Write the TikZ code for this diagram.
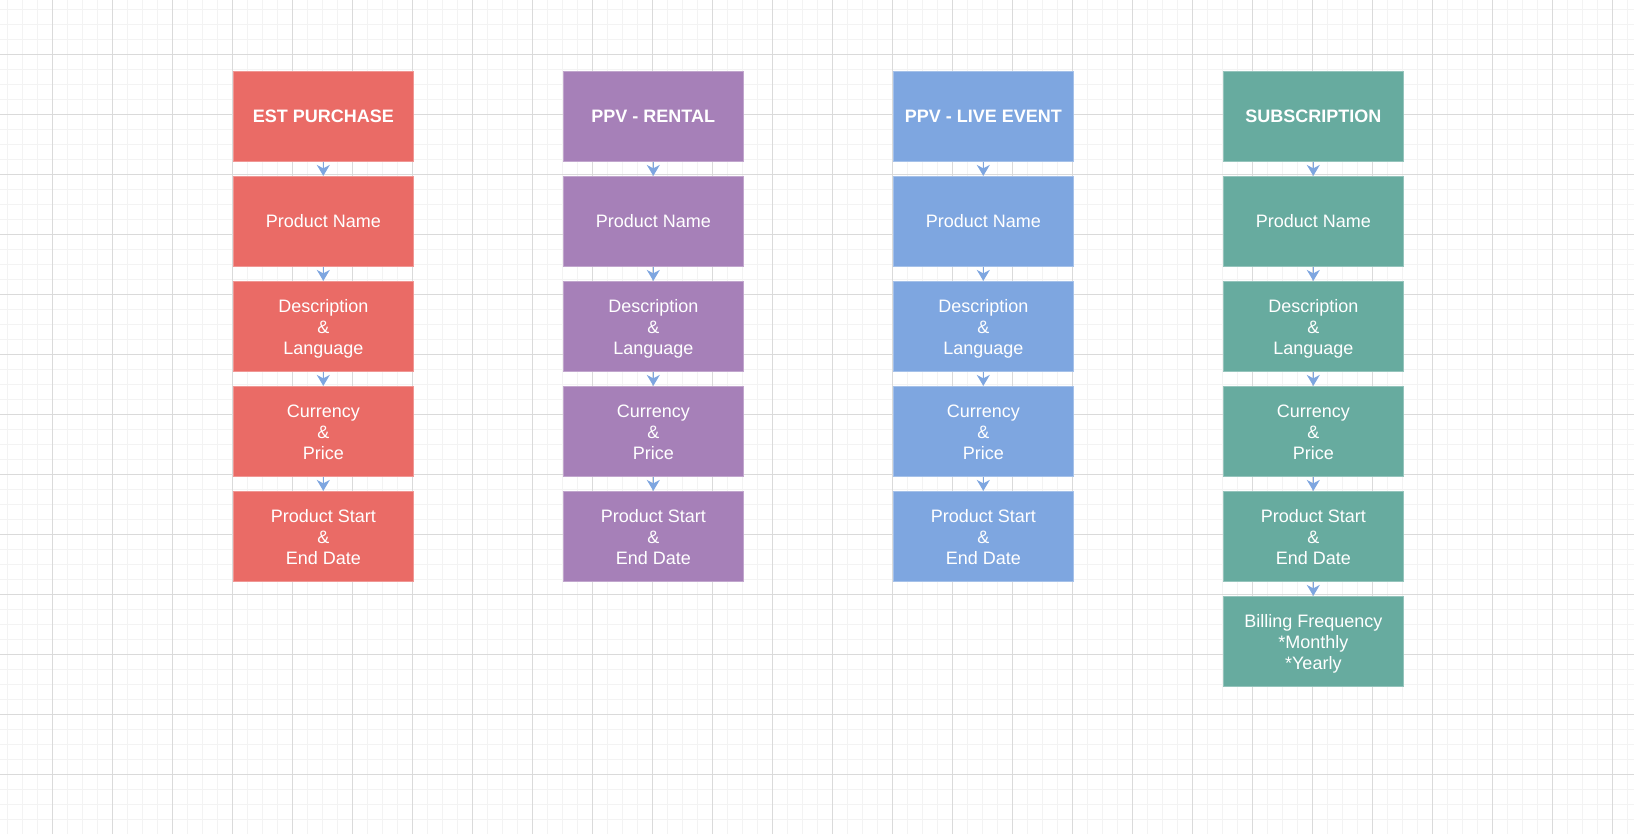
\documentclass[tikz,border=0pt]{standalone}
\usepackage{fontspec}
\setmainfont{Liberation Sans}
\usetikzlibrary{arrows.meta}
\definecolor{cred}{HTML}{EA6B66}
\definecolor{cpur}{HTML}{A680B8}
\definecolor{cblu}{HTML}{7EA6E0}
\definecolor{cgrn}{HTML}{67AB9F}
\definecolor{gminor}{HTML}{F3F3F3}
\definecolor{gmajor}{HTML}{DADADA}
\tikzset{
  minorline/.style={draw=gminor, line width=1.3pt},
  majorline/.style={draw=gmajor, line width=0.9pt},
  cell/.style={minimum width=180pt, minimum height=90pt, inner sep=0pt, align=center,
    text=white, font=\fontsize{18}{20.8}\selectfont, line width=0.8pt},
  multi/.style={cell, text height=56pt, text depth=0pt},
  head/.style={cell, font=\fontsize{18}{20.8}\selectfont\bfseries},
  redc/.style={fill=cred, draw=cred!70!white},
  purc/.style={fill=cpur, draw=cpur!70!white},
  bluc/.style={fill=cblu, draw=cblu!70!white},
  grnc/.style={fill=cgrn, draw=cgrn!70!white},
  link/.style={draw=cblu, line width=1.2pt, -{Stealth[length=11pt,width=13pt,inset=3.5pt]}},
}
\begin{document}
\begin{tikzpicture}[x=1pt,y=1pt]
\useasboundingbox (0,0) rectangle (1634,-834);
\fill[white] (0,0) rectangle (1634,-834);
% minor grid
\foreach \i in {0,...,108} { \draw[minorline] ({7.3+15*\i},0) -- ({7.3+15*\i},-834); }
\foreach \i in {0,...,55} { \draw[minorline] (0,{-9.3-15*\i}) -- (1634,{-9.3-15*\i}); }
% major grid
\foreach \i in {0,...,26} { \draw[majorline] ({52.3+60*\i},0) -- ({52.3+60*\i},-834); }
\foreach \i in {0,...,13} { \draw[majorline] (0,{-54.3-60*\i}) -- (1634,{-54.3-60*\i}); }

% column 1
\node[head,redc] (r0) at (323.3,-116.3) {EST PURCHASE};
\node[cell,redc] (r1) at (323.3,-221.3) {Product Name};
\node[multi,redc] (r2) at (323.3,-326.3) {Description\\\&\\Language};
\node[multi,redc] (r3) at (323.3,-431.3) {Currency\\\&\\Price};
\node[multi,redc] (r4) at (323.3,-536.3) {Product Start\\\&\\End Date};
% column 2
\node[head,purc] (p0) at (653.3,-116.3) {PPV - RENTAL};
\node[cell,purc] (p1) at (653.3,-221.3) {Product Name};
\node[multi,purc] (p2) at (653.3,-326.3) {Description\\\&\\Language};
\node[multi,purc] (p3) at (653.3,-431.3) {Currency\\\&\\Price};
\node[multi,purc] (p4) at (653.3,-536.3) {Product Start\\\&\\End Date};
% column 3
\node[head,bluc] (b0) at (983.3,-116.3) {PPV - LIVE EVENT};
\node[cell,bluc] (b1) at (983.3,-221.3) {Product Name};
\node[multi,bluc] (b2) at (983.3,-326.3) {Description\\\&\\Language};
\node[multi,bluc] (b3) at (983.3,-431.3) {Currency\\\&\\Price};
\node[multi,bluc] (b4) at (983.3,-536.3) {Product Start\\\&\\End Date};
% column 4
\node[head,grnc] (g0) at (1313.3,-116.3) {SUBSCRIPTION};
\node[cell,grnc] (g1) at (1313.3,-221.3) {Product Name};
\node[multi,grnc] (g2) at (1313.3,-326.3) {Description\\\&\\Language};
\node[multi,grnc] (g3) at (1313.3,-431.3) {Currency\\\&\\Price};
\node[multi,grnc] (g4) at (1313.3,-536.3) {Product Start\\\&\\End Date};
\node[multi,grnc] (g5) at (1313.3,-641.3) {Billing Frequency\\*Monthly\\*Yearly};

\foreach \c in {r,p,b,g} {
  \draw[link] (\c0.south) -- (\c1.north);
  \draw[link] (\c1.south) -- (\c2.north);
  \draw[link] (\c2.south) -- (\c3.north);
  \draw[link] (\c3.south) -- (\c4.north);
}
\draw[link] (g4.south) -- (g5.north);
\end{tikzpicture}
\end{document}
